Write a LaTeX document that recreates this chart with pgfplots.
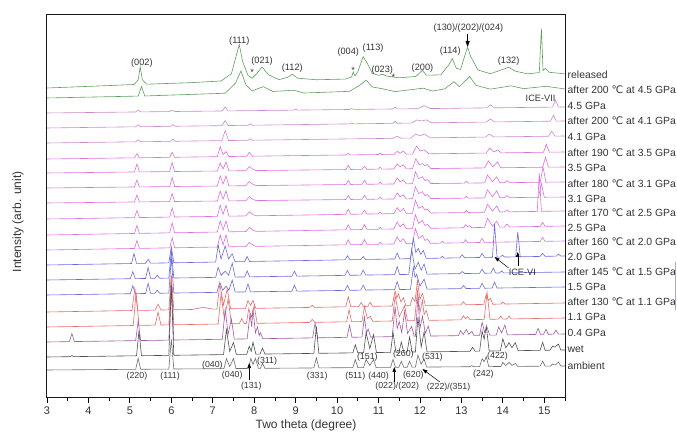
\documentclass[border=0pt]{standalone}
\usepackage{fontspec}
\setmainfont{Liberation Sans}
\newfontfamily\dejavu{DejaVu Sans}
\usepackage{pgfplots}
\pgfplotsset{compat=1.18}
\usetikzlibrary{arrows.meta}

\definecolor{cgreen}{HTML}{5E9E5E}
\definecolor{cmauve}{HTML}{CC88CC}
\definecolor{cmag}{HTML}{DD70DD}
\definecolor{cblue}{HTML}{6A6AE0}
\definecolor{cred}{HTML}{E86A6A}
\definecolor{cpurp}{HTML}{A05AA5}
\definecolor{cwet}{HTML}{505050}
\definecolor{camb}{HTML}{6E6E6E}
\definecolor{ctext}{HTML}{333333}
\definecolor{cbar}{HTML}{AAAAD2}

% #1 colour, #2 baseline at 3 deg, #3 baseline at 15.5 deg, #4 peaks (height above baseline)
\newcommand{\trace}[4]{\addplot[#1, line width=0.6pt] table[row sep=\\, y expr={\thisrow{y}+#2+(#3-#2)*(\thisrow{x}-3)/12.5}] {#4};}
\newcommand{\lab}[2]{\node[anchor=west, inner sep=0pt, font=\fontsize{10.4}{12}\selectfont, text=ctext] at (axis cs:15.5,#1) {\hspace{2.5pt}#2};}
\newcommand{\degC}{{\dejavu ℃}}
\newcommand{\hkl}[3]{\node[font=\fontsize{9.2}{11}\selectfont, text=ctext, inner sep=0pt] at (axis cs:#1,#2) {#3};}
\newcommand{\hkb}[3]{\node[font=\fontsize{8.8}{10}\selectfont, text=ctext, inner sep=0pt] at (axis cs:#1,#2) {#3};}

\begin{document}
\begin{tikzpicture}
\begin{axis}[
  width=518pt, height=383pt, scale only axis,
  axis lines=box,
  xmin=3, xmax=15.5, ymin=45, ymax=428,
  xtick={3,...,15}, minor xtick={3.5,4.5,...,15.5},
  ytick=\empty,
  xtick pos=bottom, tick align=outside,
  major tick length=5pt, minor tick length=3pt,
  tick style={black, line width=0.8pt},
  axis line style={line width=1pt, black!90},
  xlabel={Two theta (degree)}, ylabel={Intensity (arb. unit)},
  label style={font=\fontsize{12}{14}\selectfont, text=ctext},
  xlabel style={at={(axis description cs:0.5,-0.0705)}, anchor=center},
  ylabel style={at={(axis description cs:-0.056,0.46)}, anchor=center},
  ticklabel style={font=\fontsize{11}{13}\selectfont, text=ctext},
  /pgf/number format/assume math mode=true,
  clip=false,
]
% released
\trace{cgreen}{355}{367}{x y\\ 3 0\\ 4.5 1\\ 5.1 1.5\\ 5.2 6\\ 5.25 19\\ 5.3 6\\ 5.4 1.5\\ 6.5 2\\ 7.2 3\\ 7.45 10\\ 7.58 30\\ 7.64 39\\ 7.72 22\\ 7.85 8\\ 7.95 5\\ 8.05 9\\ 8.19 16\\ 8.35 8\\ 8.6 3\\ 8.8 5\\ 8.92 8\\ 9.05 4\\ 9.5 2\\ 10.2 2\\ 10.35 4\\ 10.39 9\\ 10.43 5\\ 10.5 9\\ 10.63 24\\ 10.72 18\\ 10.85 7\\ 11.0 5\\ 11.09 6\\ 11.2 4\\ 11.5 2\\ 11.9 3\\ 12.06 9\\ 12.15 4\\ 12.5 4\\ 12.7 14\\ 12.78 20\\ 12.88 10\\ 12.98 9\\ 13.1 25\\ 13.15 31\\ 13.22 22\\ 13.4 8\\ 13.7 4\\ 14.0 8\\ 14.14 10\\ 14.3 6\\ 14.6 3\\ 14.88 4\\ 14.93 48\\ 14.97 6\\ 15.03 8\\ 15.12 4\\ 15.34 3\\ 15.5 2\\}
% after 200 C at 4.5 GPa
\trace{cgreen}{345}{353}{x y\\ 3 0\\ 5.2 0.5\\ 5.28 10\\ 5.36 0.5\\ 7.3 2\\ 7.55 12\\ 7.68 24\\ 7.8 10\\ 7.95 4\\ 8.22 8\\ 8.45 3\\ 8.95 4\\ 9.2 1\\ 10.3 2\\ 10.55 8\\ 10.7 13\\ 10.85 6\\ 11.1 4\\ 11.4 1\\ 12.08 4\\ 12.3 1\\ 12.6 3\\ 12.82 10\\ 12.95 5\\ 13.2 15\\ 13.35 6\\ 13.7 2\\ 14.2 5\\ 14.5 2\\ 15.05 4\\ 15.5 1\\}
% 4.5 GPa
\trace{cmauve}{330}{336}{x y\\ 3 0\\ 5.14 0\\ 5.2 2\\ 5.26 0\\ 5.95 0\\ 6.02 1.5\\ 6.09 0\\ 7.23 0\\ 7.3 4\\ 7.37 0\\ 8.95 0\\ 9.0 1\\ 9.05 0\\ 10.3 0\\ 10.35 1\\ 10.4 0\\ 11.35 0\\ 11.4 2\\ 11.45 0\\ 11.95 0\\ 12.1 3\\ 12.25 0\\ 13.6 0\\ 13.7 3\\ 13.8 0\\ 15.2 0\\ 15.27 7\\ 15.34 0\\ 15.5 0\\}
% after 200 C at 4.1 GPa
\trace{cmauve}{315}{322}{x y\\ 3 0\\ 5.14 0\\ 5.2 2\\ 5.26 0\\ 5.98 0\\ 6.04 1.5\\ 6.1 0\\ 7.22 0\\ 7.3 5\\ 7.37 0\\ 7.85 0\\ 7.9 1.5\\ 7.95 0\\ 10.3 0\\ 10.35 1\\ 10.4 0\\ 11.35 0\\ 11.4 2\\ 11.45 0\\ 11.8 0\\ 11.92 3\\ 12.05 2\\ 12.15 3\\ 12.28 0\\ 13.6 0\\ 13.7 3\\ 13.8 0\\ 15.15 0\\ 15.22 6\\ 15.29 0\\ 15.5 0\\}
% 4.1 GPa
\trace{cmauve}{300}{307}{x y\\ 3 0\\ 5.14 0\\ 5.2 2\\ 5.26 0\\ 5.98 0\\ 6.04 2\\ 6.1 0\\ 7.22 0\\ 7.3 10\\ 7.38 0\\ 7.85 0\\ 7.9 1.5\\ 7.95 0\\ 11.35 0\\ 11.45 2\\ 11.55 0\\ 11.78 0\\ 11.9 4\\ 12.0 2\\ 12.1 4\\ 12.25 0\\ 13.58 0\\ 13.68 3\\ 13.78 0\\ 15.1 0\\ 15.18 5\\ 15.26 0\\ 15.5 0\\}
% after 190 C at 3.5 GPa
\trace{cmag}{284}{291}{x y\\ 3 0\\ 5.11 0\\ 5.17 4\\ 5.23 0\\ 5.96 0\\ 6.02 5\\ 6.08 0\\ 7.11 0\\ 7.18 10\\ 7.25 2\\ 7.32 5\\ 7.39 0\\ 7.82 0\\ 7.88 4\\ 7.96 0\\ 10.22 0\\ 10.27 1.5\\ 10.32 0\\ 11.0 0\\ 11.04 1.5\\ 11.08 0\\ 11.38 0\\ 11.45 3\\ 11.52 1\\ 11.6 3\\ 11.67 0\\ 11.82 0\\ 11.92 8\\ 12.0 3\\ 12.1 4\\ 12.22 0\\ 13.6 0\\ 13.68 5\\ 13.78 1\\ 13.88 3\\ 13.96 0\\ 14.98 0\\ 15.05 8\\ 15.12 0\\ 15.5 0\\}
% 3.5 GPa
\trace{cmag}{270}{276}{x y\\ 3 0\\ 5.11 0\\ 5.17 8\\ 5.23 0\\ 5.96 0\\ 6.02 9\\ 6.08 0\\ 7.11 0\\ 7.18 8\\ 7.25 2\\ 7.32 9\\ 7.39 0\\ 7.8 0\\ 7.88 4\\ 7.98 1\\ 8.05 0\\ 10.21 0\\ 10.27 4\\ 10.33 0\\ 10.6 0\\ 10.66 3\\ 10.72 0\\ 11.0 0\\ 11.04 2\\ 11.08 0\\ 11.37 0\\ 11.45 5\\ 11.52 2\\ 11.6 4\\ 11.67 0\\ 11.82 0\\ 11.9 10\\ 11.98 4\\ 12.06 5\\ 12.12 3\\ 12.18 4\\ 12.26 0\\ 13.56 0\\ 13.65 7\\ 13.76 1\\ 13.87 6\\ 13.95 0\\ 14.96 0\\ 15.03 10\\ 15.1 0\\ 15.5 0\\}
% after 180 C at 3.1 GPa
\trace{cmag}{255}{261}{x y\\ 3 0\\ 5.11 0\\ 5.17 7\\ 5.23 0\\ 5.96 0\\ 6.02 9\\ 6.08 0\\ 7.11 0\\ 7.18 10\\ 7.25 2\\ 7.32 10\\ 7.39 0\\ 7.8 0\\ 7.88 4\\ 7.98 1\\ 8.05 0\\ 10.21 0\\ 10.27 4\\ 10.33 0\\ 10.6 0\\ 10.66 4\\ 10.72 0\\ 11.0 0\\ 11.04 2\\ 11.08 0\\ 11.37 0\\ 11.45 6\\ 11.52 2\\ 11.6 4\\ 11.67 0\\ 11.82 0\\ 11.89 12\\ 11.97 5\\ 12.06 7\\ 12.12 3\\ 12.18 4\\ 12.26 0\\ 13.07 0\\ 13.12 2\\ 13.17 0\\ 13.56 0\\ 13.63 8\\ 13.75 1\\ 13.85 6\\ 13.93 0\\ 14.04 0\\ 14.1 2\\ 14.16 0\\ 14.9 0\\ 14.97 15\\ 15.04 0\\ 15.5 0\\}
% 3.1 GPa
\trace{cmag}{240}{246}{x y\\ 3 0\\ 5.11 0\\ 5.17 7\\ 5.23 0\\ 5.96 0\\ 6.02 8\\ 6.08 0\\ 7.11 0\\ 7.18 10\\ 7.25 2\\ 7.32 10\\ 7.39 0\\ 7.8 0\\ 7.88 4\\ 7.98 1\\ 8.05 0\\ 10.21 0\\ 10.27 4\\ 10.33 0\\ 10.6 0\\ 10.66 4\\ 10.72 0\\ 11.0 0\\ 11.04 2\\ 11.08 0\\ 11.37 0\\ 11.45 6\\ 11.52 2\\ 11.6 4\\ 11.67 0\\ 11.82 0\\ 11.89 12\\ 11.97 5\\ 12.06 7\\ 12.12 3\\ 12.18 4\\ 12.26 0\\ 13.07 0\\ 13.12 2\\ 13.17 0\\ 13.56 0\\ 13.63 8\\ 13.75 1\\ 13.85 7\\ 13.93 0\\ 14.04 0\\ 14.1 2\\ 14.16 0\\ 14.86 0\\ 14.93 14\\ 15.0 0\\ 15.5 0\\}
% after 170 C at 2.5 GPa
\trace{cmag}{224}{232}{x y\\ 3 0\\ 5.11 0\\ 5.17 7\\ 5.23 0\\ 5.96 0\\ 6.02 9\\ 6.08 0\\ 7.11 0\\ 7.18 11\\ 7.25 2\\ 7.32 11\\ 7.39 0\\ 7.8 0\\ 7.88 4\\ 7.98 1\\ 8.05 0\\ 10.21 0\\ 10.27 5\\ 10.33 0\\ 10.6 0\\ 10.66 4\\ 10.72 0\\ 11.0 0\\ 11.04 2\\ 11.08 0\\ 11.37 0\\ 11.45 6\\ 11.52 2\\ 11.6 5\\ 11.67 0\\ 11.82 0\\ 11.89 13\\ 11.97 5\\ 12.06 7\\ 12.12 3\\ 12.18 4\\ 12.26 0\\ 13.07 0\\ 13.12 2\\ 13.17 0\\ 13.56 0\\ 13.63 8\\ 13.75 1\\ 13.85 6\\ 13.93 0\\ 14.04 0\\ 14.1 2\\ 14.16 0\\ 14.83 0\\ 14.88 38\\ 14.93 0\\ 15.5 0\\}
% 2.5 GPa
\trace{cmag}{208}{217}{x y\\ 3 0\\ 5.11 0\\ 5.17 8\\ 5.23 0\\ 5.96 0\\ 6.02 10\\ 6.08 0\\ 7.11 0\\ 7.18 11\\ 7.25 2\\ 7.32 11\\ 7.39 0\\ 7.8 0\\ 7.88 4\\ 7.98 1\\ 8.05 0\\ 10.21 0\\ 10.27 5\\ 10.33 0\\ 10.6 0\\ 10.66 5\\ 10.72 0\\ 11.0 0\\ 11.04 2\\ 11.08 0\\ 11.37 0\\ 11.45 7\\ 11.52 2\\ 11.6 5\\ 11.67 0\\ 11.82 0\\ 11.89 14\\ 11.97 5\\ 12.06 8\\ 12.12 3\\ 12.18 4\\ 12.26 0\\ 13.05 0\\ 13.1 3\\ 13.15 1\\ 13.2 2\\ 13.25 0\\ 13.56 0\\ 13.63 9\\ 13.75 1\\ 13.85 6\\ 13.93 0\\ 14.04 0\\ 14.1 3\\ 14.16 0\\ 14.9 0\\ 14.96 4\\ 15.02 0\\ 15.5 0\\}
% after 160 C at 2.0 GPa
\trace{cmag}{193}{202}{x y\\ 3 0\\ 5.11 0\\ 5.17 8\\ 5.23 0\\ 5.96 0\\ 6.02 10\\ 6.08 0\\ 7.11 0\\ 7.18 12\\ 7.25 2\\ 7.32 12\\ 7.39 0\\ 7.8 0\\ 7.88 4\\ 7.98 1\\ 8.05 0\\ 10.21 0\\ 10.27 5\\ 10.33 0\\ 10.6 0\\ 10.66 5\\ 10.72 0\\ 11.0 0\\ 11.04 2\\ 11.08 0\\ 11.37 0\\ 11.45 7\\ 11.52 2\\ 11.6 5\\ 11.67 0\\ 11.82 0\\ 11.89 15\\ 11.97 5\\ 12.06 8\\ 12.12 3\\ 12.18 4\\ 12.26 0\\ 12.49 0\\ 12.54 2\\ 12.59 0\\ 13.05 0\\ 13.1 3\\ 13.15 0\\ 13.44 0\\ 13.5 4\\ 13.56 0\\ 14.9 0\\ 14.96 4\\ 15.02 0\\ 15.5 0\\}
% 2.0 GPa
\trace{cblue}{178}{187}{x y\\ 3 0\\ 5.04 0\\ 5.1 10\\ 5.16 0\\ 5.38 0\\ 5.44 4\\ 5.5 0\\ 5.94 0\\ 6.0 16\\ 6.06 0\\ 7.07 0\\ 7.13 17\\ 7.2 3\\ 7.3 16\\ 7.38 3\\ 7.47 8\\ 7.54 0\\ 7.77 0\\ 7.83 5\\ 7.89 0\\ 10.19 0\\ 10.25 4\\ 10.31 0\\ 10.57 0\\ 10.63 3\\ 10.69 0\\ 11.39 0\\ 11.45 6\\ 11.51 0\\ 11.77 0\\ 11.84 20\\ 11.9 6\\ 11.96 10\\ 12.02 4\\ 12.08 8\\ 12.15 0\\ 12.49 0\\ 12.54 2\\ 12.59 0\\ 12.96 0\\ 13.02 3\\ 13.08 0\\ 13.44 0\\ 13.5 4\\ 13.56 0\\ 13.75 0\\ 13.8 33\\ 13.86 0\\ 13.94 0\\ 13.99 2\\ 14.04 0\\ 14.31 0\\ 14.36 25\\ 14.42 0\\ 14.9 0\\ 14.96 3\\ 15.02 0\\ 15.29 0\\ 15.34 2\\ 15.4 0\\ 15.5 0\\}
% after 145 C at 1.5 GPa
\trace{cblue}{163}{171}{x y\\ 3 0\\ 5.01 0\\ 5.07 7\\ 5.13 0\\ 5.38 0\\ 5.44 11\\ 5.5 0\\ 5.6 0\\ 5.66 3\\ 5.72 0\\ 5.94 0\\ 6.0 28\\ 6.06 0\\ 7.07 0\\ 7.13 10\\ 7.2 2\\ 7.3 6\\ 7.38 2\\ 7.47 14\\ 7.54 0\\ 7.77 0\\ 7.83 6\\ 7.89 0\\ 8.91 0\\ 8.97 5\\ 9.03 0\\ 10.19 0\\ 10.25 5\\ 10.31 0\\ 10.57 0\\ 10.63 5\\ 10.69 0\\ 11.39 0\\ 11.45 8\\ 11.51 0\\ 11.73 0\\ 11.8 25\\ 11.88 5\\ 11.96 12\\ 12.03 4\\ 12.1 10\\ 12.17 0\\ 12.96 0\\ 13.02 2\\ 13.08 0\\ 13.44 0\\ 13.5 4\\ 13.56 0\\ 13.71 0\\ 13.77 5\\ 13.83 0\\ 13.92 0\\ 13.97 2\\ 14.02 0\\ 15.5 0\\}
% 1.5 GPa
\trace{cblue}{148}{156}{x y\\ 3 0\\ 5.01 0\\ 5.07 8\\ 5.13 0\\ 5.38 0\\ 5.44 10\\ 5.5 0\\ 5.6 0\\ 5.66 3\\ 5.72 0\\ 5.94 0\\ 6.0 36\\ 6.06 0\\ 7.1 0\\ 7.17 10\\ 7.24 2\\ 7.32 6\\ 7.39 2\\ 7.47 12\\ 7.54 0\\ 7.79 0\\ 7.85 8\\ 7.91 0\\ 8.91 0\\ 8.97 6\\ 9.03 0\\ 10.19 0\\ 10.25 5\\ 10.31 0\\ 10.57 0\\ 10.63 5\\ 10.69 0\\ 11.39 0\\ 11.45 8\\ 11.51 0\\ 11.77 0\\ 11.84 22\\ 11.88 12\\ 11.92 15\\ 12.0 3\\ 12.1 10\\ 12.17 0\\ 12.99 0\\ 13.05 3\\ 13.11 0\\ 13.44 0\\ 13.5 5\\ 13.56 0\\ 13.74 0\\ 13.8 6\\ 13.86 0\\ 15.5 0\\}
% after 130 C at 1.1 GPa
\trace{cred}{131}{140}{x y\\ 3 0\\ 5.05 0\\ 5.12 22\\ 5.19 0\\ 5.61 0\\ 5.68 6\\ 5.75 0\\ 5.94 0\\ 6.0 35\\ 6.06 0\\ 6.5 0\\ 6.77 2\\ 7.0 0\\ 7.1 0\\ 7.17 25\\ 7.26 4\\ 7.35 20\\ 7.43 0\\ 7.79 0\\ 7.85 8\\ 7.91 3\\ 7.97 8\\ 8.04 0\\ 9.34 0\\ 9.4 2\\ 9.46 0\\ 10.21 0\\ 10.27 10\\ 10.33 0\\ 10.52 0\\ 10.58 4\\ 10.64 0\\ 10.74 0\\ 10.8 4\\ 10.86 0\\ 11.33 0\\ 11.4 15\\ 11.44 8\\ 11.48 12\\ 11.54 4\\ 11.6 8\\ 11.66 0\\ 11.76 0\\ 11.82 8\\ 11.88 4\\ 11.94 25\\ 12.0 6\\ 12.06 12\\ 12.13 0\\ 12.99 0\\ 13.05 3\\ 13.11 0\\ 13.54 0\\ 13.6 10\\ 13.65 4\\ 13.7 6\\ 13.76 0\\ 13.95 0\\ 14.0 2\\ 14.05 0\\ 15.5 0\\}
% 1.1 GPa
\trace{cred}{116}{125}{x y\\ 3 0\\ 5.08 0\\ 5.15 33\\ 5.22 0\\ 5.61 0\\ 5.68 13\\ 5.75 0\\ 5.94 0\\ 6.0 45\\ 6.06 0\\ 7.13 0\\ 7.2 30\\ 7.28 5\\ 7.37 25\\ 7.45 0\\ 7.64 0\\ 7.7 5\\ 7.76 0\\ 7.81 0\\ 7.87 15\\ 7.93 6\\ 8.0 18\\ 8.07 0\\ 9.34 0\\ 9.4 3\\ 9.46 0\\ 10.23 0\\ 10.29 12\\ 10.35 0\\ 10.6 0\\ 10.66 15\\ 10.73 3\\ 10.8 5\\ 10.86 0\\ 11.33 0\\ 11.4 25\\ 11.5 4\\ 11.63 15\\ 11.7 0\\ 11.87 0\\ 11.94 30\\ 12.0 8\\ 12.06 20\\ 12.1 6\\ 12.15 10\\ 12.22 0\\ 12.99 0\\ 13.05 4\\ 13.1 1\\ 13.15 3\\ 13.21 0\\ 13.55 0\\ 13.62 27\\ 13.69 0\\ 13.9 0\\ 13.95 3\\ 14.0 0\\ 14.1 0\\ 14.15 3\\ 14.2 0\\ 15.5 0\\}
% 0.4 GPa
\trace{cpurp}{101}{109}{x y\\ 3 0\\ 3.54 0\\ 3.6 8\\ 3.66 0\\ 5.14 0\\ 5.2 20\\ 5.26 0\\ 5.94 0\\ 6.0 55\\ 6.06 0\\ 7.23 0\\ 7.3 30\\ 7.37 5\\ 7.45 20\\ 7.52 0\\ 7.83 0\\ 7.9 25\\ 7.94 12\\ 7.97 30\\ 8.03 6\\ 8.08 12\\ 8.12 3\\ 8.15 6\\ 8.21 0\\ 9.41 0\\ 9.47 15\\ 9.53 0\\ 10.24 0\\ 10.3 12\\ 10.36 0\\ 10.6 0\\ 10.66 20\\ 10.71 4\\ 10.75 8\\ 10.81 0\\ 11.33 0\\ 11.4 30\\ 11.45 8\\ 11.5 15\\ 11.56 4\\ 11.63 25\\ 11.7 3\\ 11.8 10\\ 11.86 0\\ 11.89 0\\ 11.95 40\\ 12.0 8\\ 12.06 20\\ 12.13 3\\ 12.2 10\\ 12.26 0\\ 12.93 0\\ 12.98 5\\ 13.04 1\\ 13.12 6\\ 13.18 1\\ 13.25 4\\ 13.3 0\\ 13.44 0\\ 13.5 13\\ 13.56 3\\ 13.62 8\\ 13.68 0\\ 13.84 0\\ 13.9 8\\ 13.97 2\\ 14.05 10\\ 14.11 0\\ 14.79 0\\ 14.85 6\\ 14.91 0\\ 14.98 0\\ 15.04 5\\ 15.1 0\\ 15.22 0\\ 15.28 4\\ 15.34 0\\ 15.5 0\\}
% wet
\trace{cwet}{86}{93}{x y\\ 3 0\\ 3.55 0\\ 3.6 1\\ 3.65 0\\ 5.16 0\\ 5.22 25\\ 5.28 0\\ 5.94 0\\ 6.0 70\\ 6.06 0\\ 7.26 0\\ 7.33 25\\ 7.41 3\\ 7.5 12\\ 7.57 0\\ 7.82 0\\ 7.88 8\\ 7.93 3\\ 7.97 12\\ 8.04 0\\ 8.14 0\\ 8.2 6\\ 8.26 0\\ 9.44 0\\ 9.5 27\\ 9.56 0\\ 10.38 0\\ 10.44 8\\ 10.5 0\\ 10.64 0\\ 10.7 20\\ 10.79 4\\ 10.88 18\\ 10.95 0\\ 11.29 0\\ 11.35 20\\ 11.42 0\\ 11.49 0\\ 11.55 10\\ 11.61 0\\ 11.69 0\\ 11.75 15\\ 11.81 0\\ 11.89 0\\ 11.95 35\\ 12.03 5\\ 12.1 20\\ 12.17 0\\ 13.21 0\\ 13.27 4\\ 13.33 0\\ 13.44 0\\ 13.5 20\\ 13.55 12\\ 13.6 25\\ 13.67 0\\ 13.94 0\\ 14.0 12\\ 14.07 3\\ 14.15 8\\ 14.22 3\\ 14.3 8\\ 14.37 0\\ 14.9 0\\ 14.96 8\\ 15.02 0\\ 15.14 0\\ 15.2 4\\ 15.26 3\\ 15.34 6\\ 15.4 0\\ 15.5 0\\}
% ambient
\trace{camb}{73}{77}{x y\\ 3 0\\ 5.14 0\\ 5.2 11\\ 5.26 0\\ 5.94 0\\ 6.0 30\\ 6.06 0\\ 7.27 0\\ 7.33 10\\ 7.41 2\\ 7.5 10\\ 7.56 0\\ 7.86 0\\ 7.92 10\\ 7.97 4\\ 8.03 10\\ 8.1 0\\ 8.15 0\\ 8.2 5\\ 8.26 0\\ 9.44 0\\ 9.5 10\\ 9.56 0\\ 10.38 0\\ 10.44 8\\ 10.5 0\\ 10.64 0\\ 10.7 8\\ 10.79 2\\ 10.88 8\\ 10.94 0\\ 11.29 0\\ 11.35 8\\ 11.41 0\\ 11.49 0\\ 11.55 6\\ 11.61 0\\ 11.69 0\\ 11.75 6\\ 11.81 0\\ 11.89 0\\ 11.95 12\\ 12.03 3\\ 12.1 8\\ 12.16 0\\ 13.21 0\\ 13.25 1\\ 13.3 0\\ 13.44 0\\ 13.5 8\\ 13.55 5\\ 13.6 10\\ 13.66 0\\ 13.95 0\\ 14.0 4\\ 14.07 1\\ 14.15 4\\ 14.22 1\\ 14.3 3\\ 14.36 0\\ 14.9 0\\ 14.96 5\\ 15.02 0\\ 15.15 0\\ 15.2 2\\ 15.27 1\\ 15.34 4\\ 15.4 0\\ 15.5 0\\}

% frame
\draw[line width=1pt, black!90] (rel axis cs:0,0) rectangle (rel axis cs:1,1);

% sample labels
\lab{368}{released}
\lab{353}{after 200 \degC{} at 4.5 GPa}
\lab{337}{4.5 GPa}
\lab{322}{after 200 \degC{} at 4.1 GPa}
\lab{306}{4.1 GPa}
\lab{290}{after 190 \degC{} at 3.5 GPa}
\lab{275}{3.5 GPa}
\lab{259}{after 180 \degC{} at 3.1 GPa}
\lab{244}{3.1 GPa}
\lab{230}{after 170 \degC{} at 2.5 GPa}
\lab{215}{2.5 GPa}
\lab{201}{after 160 \degC{} at 2.0 GPa}
\lab{186}{2.0 GPa}
\lab{171}{after 145 \degC{} at 1.5 GPa}
\lab{156}{1.5 GPa}
\lab{141}{after 130 \degC{} at 1.1 GPa}
\lab{126}{1.1 GPa}
\lab{110}{0.4 GPa}
\lab{94}{wet}
\lab{77}{ambient}

% indices of the released pattern
\hkl{5.29}{380}{(002)}
\hkl{7.64}{402}{(111)}
\hkl{7.95}{371}{*}
\hkl{8.19}{382}{(021)}
\hkl{8.92}{375}{(112)}
\hkl{10.27}{391}{(004)}
\hkl{10.39}{373}{*}
\hkl{10.87}{395}{(113)}
\hkl{11.09}{373}{(023)}
\hkl{11.36}{366}{*}
\hkl{12.06}{375}{(200)}
\hkl{12.73}{392}{(114)}
\hkl{13.17}{415}{(130)/(202)/(024)}
\hkl{14.14}{382}{(132)}
\hkl{14.91}{345}{ICE-VII}
\draw[-{Triangle[length=6pt,width=4pt]}, line width=0.5pt] (axis cs:13.15,409) -- (axis cs:13.15,396);

% ICE-VI
\hkl{14.47}{171}{ICE-VI}
\draw[-{Triangle[length=5pt,width=3.5pt]}, line width=0.5pt] (axis cs:14.14,175) -- (axis cs:13.8,186);
\draw[-{Triangle[length=5pt,width=3.5pt]}, line width=0.5pt] (axis cs:14.36,177) -- (axis cs:14.36,191);

% indices of the ambient pattern
\hkb{5.17}{67}{(220)}
\hkb{5.97}{67}{(111)}
\hkb{6.99}{78}{(040)}
\hkb{7.47}{68}{(040)}
\hkb{7.93}{57}{(131)}
\draw[-{Triangle[length=5pt,width=3.5pt]}, line width=0.5pt] (axis cs:7.88,63) -- (axis cs:7.88,80);
\hkb{8.31}{82}{(311)}
\hkb{9.52}{67}{(331)}
\hkb{10.44}{67}{(511)}
\hkb{11.0}{67}{(440)}
\hkb{10.73}{86}{(151)}
\hkb{11.6}{89}{(260)}
\hkb{11.45}{57}{(022)/(202)}
\draw[-{Triangle[length=5pt,width=3.5pt]}, line width=0.5pt] (axis cs:11.38,61) -- (axis cs:11.38,76);
\hkb{11.84}{68}{(620)}
\hkb{12.3}{86}{(531)}
\hkb{12.69}{56}{(222)/(351)}
\draw[-{Triangle[length=5pt,width=3.5pt]}, line width=0.5pt] (axis cs:12.48,61) -- (axis cs:12.06,74);
\hkb{13.87}{87}{(422)}
\hkb{13.53}{69}{(242)}
\end{axis}
\pgfresetboundingbox
\path[use as bounding box] (current axis.south west) ++(-47pt,-45pt) rectangle ++(677pt,443pt);
\draw[cbar, line width=0.8pt] (current axis.south west) ++(628.6pt,88pt) -- ++(0pt,48pt);
\end{tikzpicture}
\end{document}
